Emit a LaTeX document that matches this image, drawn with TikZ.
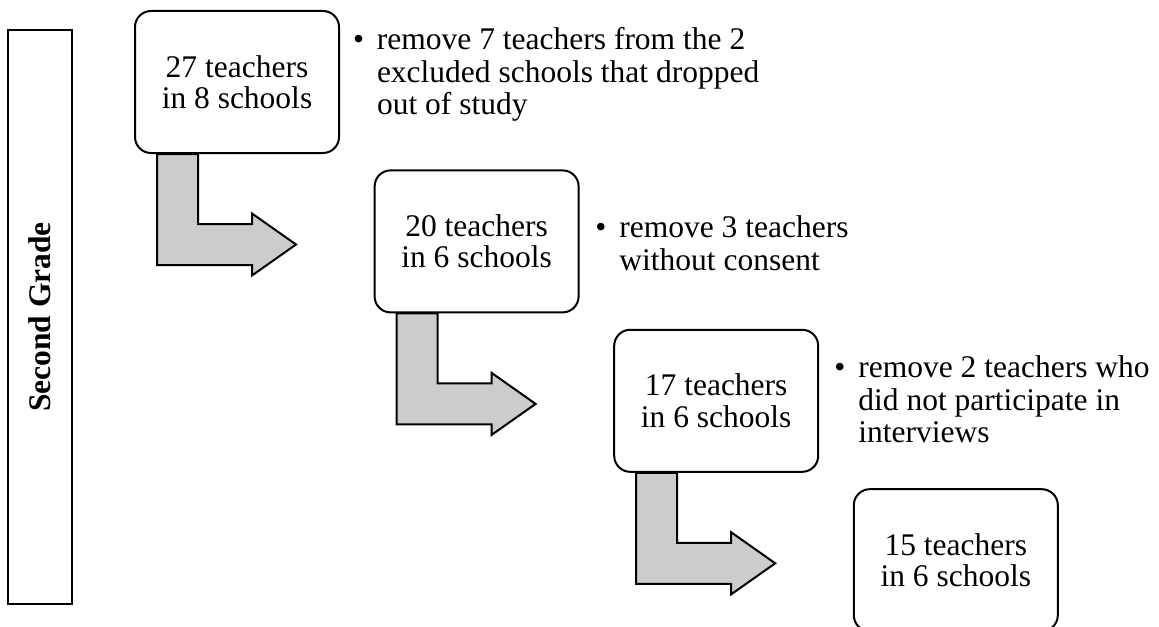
\documentclass[tikz,border=0pt]{standalone}
\usepackage{fontspec}
\setmainfont{Liberation Serif}
\usetikzlibrary{positioning}
\colorlet{ArrowGray}{black!20}

\begin{document}
\begin{tikzpicture}[
    box/.style={draw,line width=1pt,rounded corners=8pt,fill=white,minimum width=102pt,minimum height=71pt,align=center,inner sep=0pt,font=\fontsize{15.75}{15.75}\selectfont},
    note/.style={anchor=north west,align=left,inner sep=0pt,font=\fontsize{15.75}{16.25}\selectfont},
    grade/.style={draw,line width=0.6pt,rotate=90,minimum width=287pt,minimum height=32pt,font=\fontsize{15.75}{15.75}\selectfont\bfseries},
    bentarrow/.style={draw,line width=1pt,fill=ArrowGray,line join=miter}
  ]
  \useasboundingbox (0,0) rectangle (579.5pt,-313pt);
  \node[grade] (side) at (20pt,-158.5pt) {Second Grade};
  \node[box,anchor=north west] (t27) at (67pt,-5pt) {27 teachers\\in 8 schools};
  \node[box,below right=7.7pt and 16.8pt of t27] (t20) {20 teachers\\in 6 schools};
  \node[box,below right=7.7pt and 16.8pt of t20] (t17) {17 teachers\\in 6 schools};
  \node[box,below right=7.7pt and 16.8pt of t17] (t15) {15 teachers\\in 6 schools};
  \node[note] (n27) at (176.3pt,-13.7pt) {\makebox[12pt][l]{\textbullet}remove 7 teachers from the 2\\\hspace*{12pt}excluded schools that dropped\\\hspace*{12pt}out of study};
  \node[note] (n20) at (297.5pt,-107.7pt) {\makebox[12pt][l]{\textbullet}remove 3 teachers\\\hspace*{12pt}without consent};
  \node[note] (n17) at (417pt,-177.7pt) {\makebox[12pt][l]{\textbullet}remove 2 teachers who\\\hspace*{12pt}did not participate in\\\hspace*{12pt}interviews};
  \draw[bentarrow] (t27.south west) ++(11.5pt,0) -- ++(20.5pt,0) -- ++(0,-35pt) -- ++(27pt,0) -- ++(0,5.25pt) -- ++(22pt,-15.5pt) -- ++(-22pt,-15.5pt) -- ++(0,5.25pt) -- ++(-47.5pt,0) -- cycle;
  \draw[bentarrow] (t20.south west) ++(11.5pt,0) -- ++(20.5pt,0) -- ++(0,-35pt) -- ++(27pt,0) -- ++(0,5.25pt) -- ++(22pt,-15.5pt) -- ++(-22pt,-15.5pt) -- ++(0,5.25pt) -- ++(-47.5pt,0) -- cycle;
  \draw[bentarrow] (t17.south west) ++(11.5pt,0) -- ++(20.5pt,0) -- ++(0,-35pt) -- ++(27pt,0) -- ++(0,5.25pt) -- ++(22pt,-15.5pt) -- ++(-22pt,-15.5pt) -- ++(0,5.25pt) -- ++(-47.5pt,0) -- cycle;
\end{tikzpicture}
\end{document}
